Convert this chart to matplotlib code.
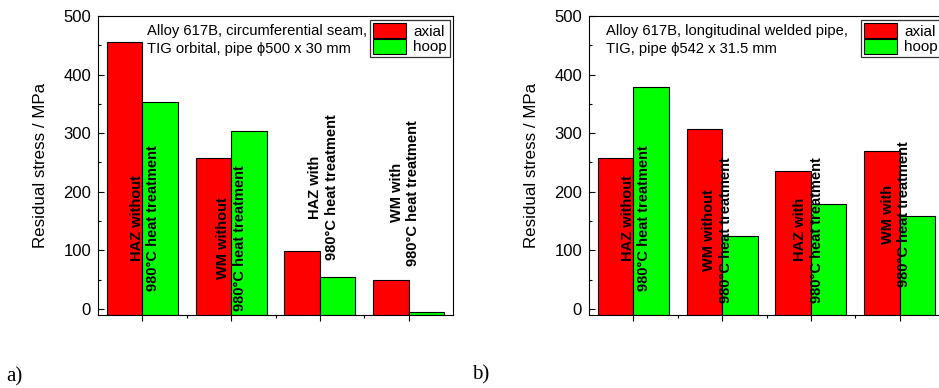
import numpy as np
import matplotlib
matplotlib.use('Agg')
import matplotlib.pyplot as plt
from matplotlib.ticker import MultipleLocator, FixedLocator, NullFormatter

plt.rcParams['font.family'] = ['Liberation Sans', 'DejaVu Sans']

# ─────────────────────────────────────────────────────────────
# Data
# ─────────────────────────────────────────────────────────────
groups = [1, 2, 3, 4]

axial_a = [456, 257, 98, 50]
hoop_a = [354, 303, 54, -5]

axial_b = [257, 307, 236, 269]
hoop_b = [379, 124, 179, 159]

labels = [
    'HAZ without\n980°C heat treatment',
    'WM without\n980°C heat treatment',
    'HAZ with\n980°C heat treatment',
    'WM with\n980°C heat treatment',
]

note_a = 'Alloy 617B, circumferential seam,\nTIG orbital, pipe \u03d5500 x 30 mm'
note_b = 'Alloy 617B, longitudinal welded pipe,\nTIG, pipe \u03d5542 x 31.5 mm'

# label anchor positions (data coords) for the rotated bar texts
label_x_a = [1.03, 2.0, 3.04, 3.96]
label_y_a = [155, 121, 207, 198]
label_x_b = [1.03, 1.95, 2.97, 3.96]
label_y_b = [155, 135, 135, 162]

Y_MIN, Y_MAX = -10, 500
WIDTH = 0.4
RED = '#ff0000'
GREEN = '#00ff00'


def draw_panel(ax, axial, hoop, note, note_x, lx, ly):
    x = np.array(groups, dtype=float)
    ax.bar(x - WIDTH / 2, np.array(axial) - Y_MIN, WIDTH, bottom=Y_MIN,
           color=RED, edgecolor='black', linewidth=0.8, label='axial')
    ax.bar(x + WIDTH / 2, np.array(hoop) - Y_MIN, WIDTH, bottom=Y_MIN,
           color=GREEN, edgecolor='black', linewidth=0.8, label='hoop')

    for xi, yi, txt in zip(lx, ly, labels):
        ax.text(xi, yi, txt, rotation=90, ha='center', va='center',
                multialignment='center', fontsize=10.5, fontweight='bold',
                linespacing=1.25)

    ax.text(note_x, 0.972, note, transform=ax.transAxes, ha='left', va='top',
            fontsize=10.6, linespacing=1.3)

    ax.set_xlim(0.5, 4.5)
    ax.set_ylim(Y_MIN, Y_MAX)
    ax.xaxis.set_major_locator(FixedLocator(groups))
    ax.xaxis.set_minor_locator(FixedLocator([1.5, 2.5, 3.5]))
    ax.xaxis.set_major_formatter(NullFormatter())
    ax.yaxis.set_major_locator(MultipleLocator(100))
    ax.yaxis.set_minor_locator(MultipleLocator(50))
    ax.tick_params(axis='x', which='major', direction='out', length=4.5, width=0.8)
    ax.tick_params(axis='x', which='minor', direction='out', length=2.5, width=0.8)
    ax.tick_params(axis='y', which='major', direction='in', length=4, width=0.8,
                   labelsize=12, pad=5)
    ax.tick_params(axis='y', which='minor', direction='in', length=2.5, width=0.8)
    ax.set_ylabel('Residual stress / MPa', fontsize=12.2, labelpad=11)
    for sp in ax.spines.values():
        sp.set_linewidth(0.8)

    leg = ax.legend(loc='upper right', bbox_to_anchor=(0.992, 0.987),
                    fontsize=11, handlelength=2.15, handleheight=1.15,
                    labelspacing=0.0, borderpad=0.2, handletextpad=0.5,
                    borderaxespad=0.0, fancybox=False, framealpha=1.0)
    leg.get_frame().set_edgecolor('#333333')
    leg.get_frame().set_linewidth(0.9)


fig = plt.figure(figsize=(9.39, 3.88), dpi=100)
ax_a = fig.add_axes([0.1044, 0.1889, 0.378, 0.7699])
ax_b = fig.add_axes([0.6273, 0.1889, 0.378, 0.7699])

draw_panel(ax_a, axial_a, hoop_a, note_a, 0.137, label_x_a, label_y_a)
draw_panel(ax_b, axial_b, hoop_b, note_b, 0.048, label_x_b, label_y_b)

fig.text(0.007, 0.028, 'a)', fontsize=15, family='Liberation Serif', ha='left', va='center')
fig.text(0.503, 0.033, 'b)', fontsize=15, family='Liberation Serif', ha='left', va='center')

fig.savefig('out.png', dpi=100)
